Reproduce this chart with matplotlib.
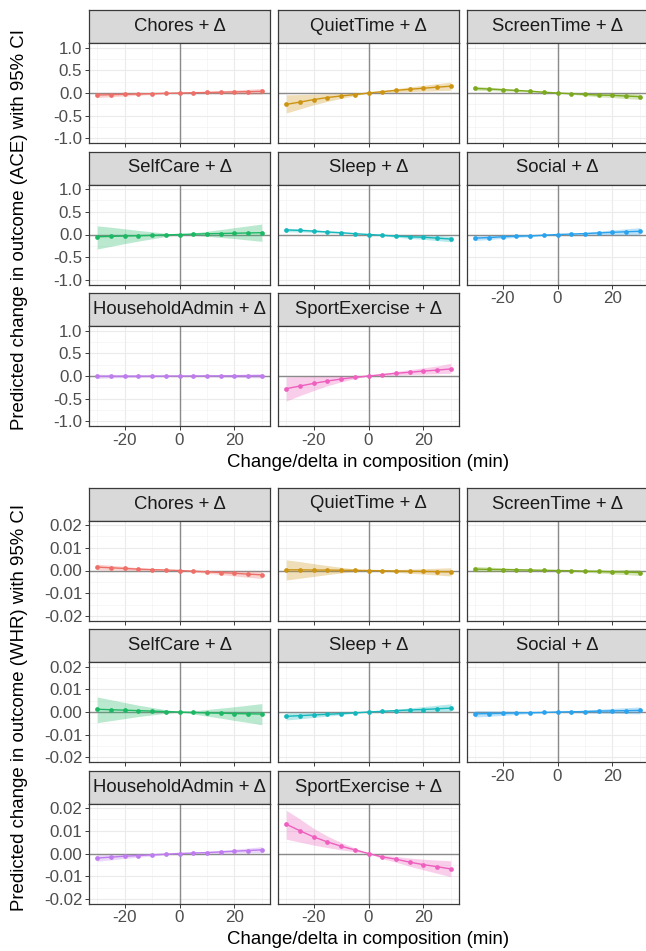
import matplotlib
matplotlib.use('Agg')
import matplotlib.pyplot as plt
import numpy as np

plt.rcParams['font.family'] = ['Liberation Sans', 'DejaVu Sans']

# ---------------- data ----------------
delta = [-30, -25, -20, -15, -10, -5, 0, 5, 10, 15, 20, 25, 30]

activities = ['Chores', 'QuietTime', 'ScreenTime', 'SelfCare', 'Sleep',
              'Social', 'HouseholdAdmin', 'SportExercise']
colors = ['#EE6F68', '#CC9412', '#7BAA1E', '#1DB864', '#14B8BC',
          '#2AA3EE', '#BE7CEE', '#EE5FBE']

# ACE outcome
chores_ace = [-0.045, -0.037, -0.03, -0.022, -0.015, -0.008, 0, 0.006, 0.012, 0.018, 0.024, 0.03, 0.036]
chores_ace_lo = [-0.10, -0.083, -0.066, -0.05, -0.033, -0.017, 0, -0.005, -0.01, -0.014, -0.018, -0.022, -0.026]
chores_ace_hi = [0.01, 0.009, 0.007, 0.005, 0.003, 0.001, 0, 0.017, 0.034, 0.05, 0.066, 0.082, 0.098]

quiet_ace = [-0.25, -0.2, -0.145, -0.10, -0.065, -0.035, 0, 0.03, 0.058, 0.082, 0.105, 0.128, 0.15]
quiet_ace_lo = [-0.44, -0.35, -0.26, -0.185, -0.12, -0.06, 0, 0.01, 0.02, 0.03, 0.04, 0.05, 0.06]
quiet_ace_hi = [-0.04, -0.035, -0.028, -0.018, -0.01, -0.005, 0, 0.05, 0.095, 0.135, 0.17, 0.205, 0.24]

screen_ace = [0.10, 0.088, 0.072, 0.056, 0.04, 0.018, 0, -0.015, -0.03, -0.045, -0.052, -0.067, -0.08]
screen_ace_lo = [0.06, 0.053, 0.044, 0.034, 0.024, 0.011, 0, -0.03, -0.058, -0.085, -0.1, -0.123, -0.14]
screen_ace_hi = [0.15, 0.128, 0.104, 0.08, 0.057, 0.026, 0, -0.001, -0.003, -0.005, -0.007, -0.011, -0.02]

selfcare_ace = [-0.05, -0.042, -0.034, -0.026, -0.018, -0.008, 0, 0.008, 0.016, 0.022, 0.028, 0.034, 0.04]
selfcare_ace_lo = [-0.32, -0.26, -0.2, -0.145, -0.095, -0.045, 0, -0.015, -0.04, -0.065, -0.09, -0.12, -0.15]
selfcare_ace_hi = [0.19, 0.16, 0.125, 0.09, 0.06, 0.028, 0, 0.035, 0.07, 0.11, 0.15, 0.19, 0.23]

sleep_ace = [0.10, 0.09, 0.075, 0.055, 0.04, 0.018, 0, -0.015, -0.035, -0.05, -0.06, -0.08, -0.10]
sleep_ace_lo = [0.06, 0.055, 0.045, 0.033, 0.024, 0.01, 0, -0.03, -0.06, -0.085, -0.105, -0.135, -0.16]
sleep_ace_hi = [0.14, 0.125, 0.105, 0.077, 0.056, 0.026, 0, -0.002, -0.01, -0.015, -0.018, -0.025, -0.04]

social_ace = [-0.08, -0.067, -0.05, -0.038, -0.03, -0.015, 0, 0.01, 0.02, 0.035, 0.048, 0.06, 0.07]
social_ace_lo = [-0.13, -0.11, -0.085, -0.065, -0.05, -0.025, 0, -0.002, -0.005, -0.005, -0.006, -0.008, -0.01]
social_ace_hi = [-0.03, -0.025, -0.018, -0.012, -0.008, -0.004, 0, 0.022, 0.045, 0.075, 0.1, 0.125, 0.15]

household_ace = [-0.006, -0.005, -0.004, -0.003, -0.002, -0.001, 0, 0.001, 0.002, 0.003, 0.004, 0.005, 0.006]
household_ace_lo = [-0.05, -0.042, -0.034, -0.026, -0.018, -0.009, 0, -0.007, -0.014, -0.021, -0.028, -0.035, -0.042]
household_ace_hi = [0.04, 0.033, 0.026, 0.02, 0.013, 0.007, 0, 0.009, 0.018, 0.027, 0.036, 0.045, 0.054]

sport_ace = [-0.28, -0.22, -0.163, -0.11, -0.067, -0.03, 0, 0.03, 0.06, 0.082, 0.108, 0.13, 0.155]
sport_ace_lo = [-0.55, -0.43, -0.32, -0.215, -0.13, -0.06, 0, 0.01, 0.02, 0.03, 0.04, 0.05, 0.06]
sport_ace_hi = [-0.02, -0.015, -0.01, -0.007, -0.004, -0.002, 0, 0.05, 0.1, 0.14, 0.18, 0.22, 0.28]

# WHR outcome
chores_whr = [0.0015, 0.0012, 0.0009, 0.0006, 0.0004, 0.0002, 0, -0.0003, -0.0006, -0.0009, -0.0012, -0.0016, -0.0019]
chores_whr_lo = [0.0003, 0.0002, 0.0001, 0.0, 0.0, 0.0, 0, -0.0007, -0.0012, -0.0018, -0.0024, -0.003, -0.0035]
chores_whr_hi = [0.0028, 0.0023, 0.0018, 0.0012, 0.0008, 0.0004, 0, 0.0001, 0.0, 0.0, 0.0, -0.0002, -0.0003]

quiet_whr = [0.0003, 0.0003, 0.0002, 0.0002, 0.0001, 0.0001, 0, -0.0001, -0.0002, -0.0003, -0.0004, -0.0005, -0.0006]
quiet_whr_lo = [-0.0042, -0.0034, -0.0026, -0.0018, -0.0011, -0.0005, 0, -0.0004, -0.0008, -0.0012, -0.0016, -0.002, -0.0024]
quiet_whr_hi = [0.0047, 0.0039, 0.003, 0.0022, 0.0014, 0.0007, 0, 0.0002, 0.0004, 0.0006, 0.0008, 0.001, 0.0012]

screen_whr = [0.0006, 0.0005, 0.0004, 0.0003, 0.0002, 0.0001, 0, -0.0001, -0.0003, -0.0004, -0.0006, -0.0007, -0.0009]
screen_whr_lo = [-0.0006, -0.0005, -0.0004, -0.0003, -0.0002, -0.0001, 0, -0.0004, -0.0008, -0.0011, -0.0015, -0.0018, -0.0022]
screen_whr_hi = [0.0018, 0.0015, 0.0012, 0.0009, 0.0006, 0.0003, 0, 0.0002, 0.0002, 0.0003, 0.0003, 0.0004, 0.0004]

selfcare_whr = [0.0012, 0.001, 0.0008, 0.0006, 0.0004, 0.0002, 0, -0.0002, -0.0004, -0.0005, -0.0007, -0.0008, -0.0009]
selfcare_whr_lo = [-0.0047, -0.0038, -0.0029, -0.002, -0.0013, -0.0006, 0, -0.0009, -0.0018, -0.0027, -0.0037, -0.0046, -0.0056]
selfcare_whr_hi = [0.0066, 0.0054, 0.0042, 0.003, 0.002, 0.001, 0, 0.0005, 0.0011, 0.0017, 0.0023, 0.003, 0.0037]

sleep_whr = [-0.0019, -0.0016, -0.0013, -0.001, -0.0007, -0.0004, 0, 0.0003, 0.0006, 0.0009, 0.0011, 0.0014, 0.0017]
sleep_whr_lo = [-0.0035, -0.003, -0.0024, -0.0018, -0.0012, -0.0006, 0, 0.0, 0.0001, 0.0001, 0.0001, 0.0002, 0.0002]
sleep_whr_hi = [-0.0004, -0.0003, -0.0002, -0.0002, -0.0001, -0.0001, 0, 0.0007, 0.0012, 0.0018, 0.0024, 0.003, 0.0036]

social_whr = [-0.0008, -0.0007, -0.0006, -0.0004, -0.0003, -0.0002, 0, 0.0001, 0.0002, 0.0004, 0.0005, 0.0006, 0.0007]
social_whr_lo = [-0.0022, -0.0019, -0.0015, -0.0011, -0.0007, -0.0004, 0, -0.0002, -0.0004, -0.0005, -0.0006, -0.0007, -0.0008]
social_whr_hi = [0.0006, 0.0005, 0.0004, 0.0003, 0.0002, 0.0001, 0, 0.0004, 0.0008, 0.0012, 0.0016, 0.0019, 0.0022]

household_whr = [-0.002, -0.0016, -0.0012, -0.0009, -0.0006, -0.0003, 0, 0.0002, 0.0004, 0.0007, 0.001, 0.0013, 0.0016]
household_whr_lo = [-0.0034, -0.0028, -0.0022, -0.0016, -0.0011, -0.0005, 0, 0.0, 0.0, 0.0001, 0.0002, 0.0003, 0.0003]
household_whr_hi = [-0.0006, -0.0005, -0.0004, -0.0003, -0.0002, -0.0001, 0, 0.0005, 0.0009, 0.0014, 0.0019, 0.0024, 0.003]

sport_whr = [0.0129, 0.010, 0.0073, 0.0051, 0.0032, 0.0016, 0, -0.0015, -0.0025, -0.0038, -0.0049, -0.0058, -0.0068]
sport_whr_lo = [0.0063, 0.005, 0.0037, 0.0026, 0.0016, 0.0008, 0, -0.0007, -0.0013, -0.002, -0.0025, -0.0029, -0.0032]
sport_whr_hi = [0.019, 0.0152, 0.011, 0.0077, 0.0048, 0.0024, 0, -0.0023, -0.0038, -0.0056, -0.0072, -0.0087, -0.0102]

x_ticks = [-20, 0, 20]
x_ticklabels = ['-20', '0', '20']
x_minor = [-30, -10, 10, 30]
ace_ticks = [-1.0, -0.5, 0.0, 0.5, 1.0]
ace_ticklabels = ['-1.0', '-0.5', '0.0', '0.5', '1.0']
ace_minor = [-0.75, -0.25, 0.25, 0.75]
whr_ticks = [-0.02, -0.01, 0.0, 0.01, 0.02]
whr_ticklabels = ['-0.02', '-0.01', '0.00', '0.01', '0.02']
whr_minor = [-0.015, -0.005, 0.005, 0.015]

ace_table = [
    (chores_ace, chores_ace_lo, chores_ace_hi),
    (quiet_ace, quiet_ace_lo, quiet_ace_hi),
    (screen_ace, screen_ace_lo, screen_ace_hi),
    (selfcare_ace, selfcare_ace_lo, selfcare_ace_hi),
    (sleep_ace, sleep_ace_lo, sleep_ace_hi),
    (social_ace, social_ace_lo, social_ace_hi),
    (household_ace, household_ace_lo, household_ace_hi),
    (sport_ace, sport_ace_lo, sport_ace_hi),
]
whr_table = [
    (chores_whr, chores_whr_lo, chores_whr_hi),
    (quiet_whr, quiet_whr_lo, quiet_whr_hi),
    (screen_whr, screen_whr_lo, screen_whr_hi),
    (selfcare_whr, selfcare_whr_lo, selfcare_whr_hi),
    (sleep_whr, sleep_whr_lo, sleep_whr_hi),
    (social_whr, social_whr_lo, social_whr_hi),
    (household_whr, household_whr_lo, household_whr_hi),
    (sport_whr, sport_whr_lo, sport_whr_hi),
]

# ---------------- layout ----------------
W, H = 646, 951
fig = plt.figure(figsize=(W / 100, H / 100), dpi=100)
fig.patch.set_facecolor('white')

col_x = [89, 278, 467]
panel_w = 181
strip_h = 33
panel_h = 100
row_pitch = 141.5
block_offsets = [10, 487.5]

TICK_FS = 12.2
STRIP_FS = 13.3
TITLE_FS = 13.4
BORDER = '#3A3A3A'
TICKLAB = '#4D4D4D'


def px_axes(x, y, w, h):
    return fig.add_axes([x / W, 1 - (y + h) / H, w / W, h / H])


def draw_block(top, table, yticks, yticklabels, yminor, ylim, ylabel):
    for i, act in enumerate(activities):
        r, c = divmod(i, 3)
        x0 = col_x[c]
        sy = top + r * row_pitch
        # strip
        sax = px_axes(x0, sy, panel_w, strip_h)
        sax.set_facecolor('#D9D9D9')
        sax.set_xticks([]); sax.set_yticks([])
        for sp in sax.spines.values():
            sp.set_color(BORDER); sp.set_linewidth(0.9)
        sax.text(0.5, 0.5, act + ' + \u0394', transform=sax.transAxes,
                 ha='center', va='center', fontsize=STRIP_FS, color='#1A1A1A')
        # panel
        ax = px_axes(x0, sy + strip_h, panel_w, panel_h)
        est, lo, hi = table[i]
        col = colors[i]
        ax.set_xlim(-33, 33)
        ax.set_ylim(*ylim)
        ax.set_xticks(x_ticks)
        ax.set_xticks(x_minor, minor=True)
        ax.set_yticks(yticks)
        ax.set_yticks(yminor, minor=True)
        ax.grid(which='major', color='#EBEBEB', linewidth=0.8, zorder=0)
        ax.grid(which='minor', color='#F0F0F0', linewidth=0.4, zorder=0)
        ax.set_axisbelow(True)
        ax.axhline(0, color='#8A8A8A', linewidth=1.0, zorder=1)
        ax.axvline(0, color='#8A8A8A', linewidth=1.0, zorder=1)
        ax.fill_between(delta, lo, hi, color=col, alpha=0.3, linewidth=0, zorder=2)
        ax.plot(delta, est, color=col, linewidth=1.0, zorder=3)
        ax.plot(delta, est, 'o', color=col, markersize=3.4, markeredgewidth=0, zorder=4)
        for sp in ax.spines.values():
            sp.set_color(BORDER); sp.set_linewidth(0.9)
        ax.tick_params(which='minor', length=0)
        ax.tick_params(which='major', length=2.8, width=0.7, color=BORDER,
                       labelsize=TICK_FS, labelcolor=TICKLAB, pad=2)
        show_x = (r == 2) or (r == 1 and c == 2)
        if show_x:
            ax.set_xticklabels(x_ticklabels)
        else:
            ax.tick_params(axis='x', labelbottom=False)
        if c == 0:
            ax.set_yticklabels(yticklabels)
        else:
            ax.tick_params(axis='y', left=False, labelleft=False)
    # axis titles
    fig.text(368.5 / W, 1 - (top + 452.5) / H, 'Change/delta in composition (min)',
             ha='center', va='center', fontsize=TITLE_FS, color='black')
    fig.text(20 / W, 1 - (top + 220) / H, ylabel, rotation=90,
             ha='center', va='center', fontsize=TITLE_FS, color='black')


draw_block(block_offsets[0], ace_table, ace_ticks, ace_ticklabels, ace_minor,
           (-1.1, 1.1), 'Predicted change in outcome (ACE) with 95% CI')
draw_block(block_offsets[1], whr_table, whr_ticks, whr_ticklabels, whr_minor,
           (-0.022, 0.022), 'Predicted change in outcome (WHR) with 95% CI')

fig.savefig('out.png', dpi=100, facecolor='white')
